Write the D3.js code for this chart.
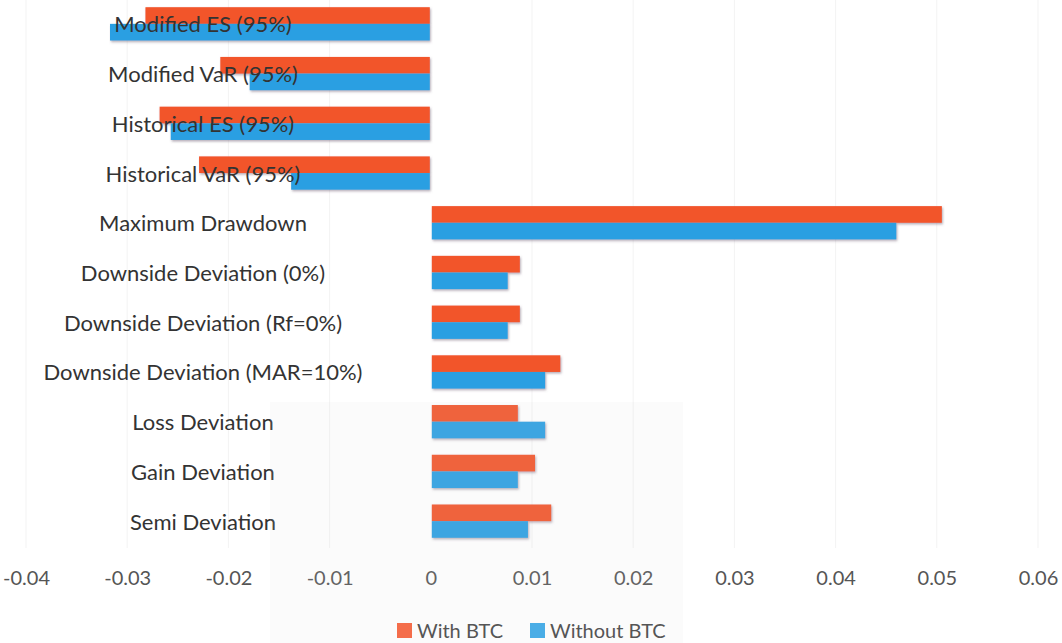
<!DOCTYPE html>
<html>
<head>
<meta charset="utf-8">
<script src="https://cdn.jsdelivr.net/npm/d3@7"></script>
<style>
  html, body { margin: 0; padding: 0; background: #ffffff; }
  svg { display: block; }
  text { font-family: Lato, "Open Sans", sans-serif; }
</style>
</head>
<body>
<svg id="chart" width="1062" height="643"></svg>
<script>
// Risk measures, top to bottom
const categories = [
  "Modified ES (95%)",
  "Modified VaR (95%)",
  "Historical ES (95%)",
  "Historical VaR (95%)",
  "Maximum Drawdown",
  "Downside Deviation (0%)",
  "Downside Deviation (Rf=0%)",
  "Downside Deviation (MAR=10%)",
  "Loss Deviation",
  "Gain Deviation",
  "Semi Deviation"
];

const seriesNames = ["With BTC", "Without BTC"];

const withBTC = [
  -0.0281, -0.0207, -0.0267, -0.0228,
  0.0504, 0.0087, 0.0087, 0.0127,
  0.0085, 0.0102, 0.0118
];

const withoutBTC = [
  -0.0316, -0.0178, -0.0256, -0.0137,
  0.0459, 0.0075, 0.0075, 0.0112,
  0.0112, 0.0085, 0.0095
];

const tickValues = [-0.04, -0.03, -0.02, -0.01, 0, 0.01, 0.02, 0.03, 0.04, 0.05, 0.06];
const tickLabels = ["-0.04", "-0.03", "-0.02", "-0.01", "0", "0.01", "0.02", "0.03", "0.04", "0.05", "0.06"];

const colors = ["#f2542a", "#2a9fe2"];

const svg = d3.select("#chart");

// Scales
const x = d3.scaleLinear().domain([-0.04, 0.06]).range([26, 1038]);
const y = d3.scaleBand().domain(categories).range([-1, 546])
  .paddingInner(0.33).paddingOuter(0.165);
const ySub = d3.scaleBand().domain(seriesNames).range([0, y.bandwidth()]);

// Soft shadow under each bar
const defs = svg.append("defs");
const shadow = defs.append("filter").attr("id", "barShadow")
  .attr("x", "-5%").attr("y", "-20%").attr("width", "110%").attr("height", "160%");
shadow.append("feDropShadow")
  .attr("dx", 1).attr("dy", 1.5).attr("stdDeviation", 0.8)
  .attr("flood-color", "#6b5a6e").attr("flood-opacity", 0.5);

// Faint vertical gridlines
svg.append("g").attr("class", "grid")
  .selectAll("line").data(tickValues.filter(v => v !== 0)).join("line")
  .attr("x1", d => x(d)).attr("x2", d => x(d))
  .attr("y1", 0).attr("y2", 548)
  .attr("stroke", "#f3f3f3").attr("stroke-width", 1);

// Bars
const rows = categories.map((c, i) => ({ cat: c, values: [withBTC[i], withoutBTC[i]] }));

const groups = svg.append("g").attr("class", "bars")
  .selectAll("g").data(rows).join("g")
  .attr("transform", d => `translate(0,${y(d.cat)})`);

groups.selectAll("rect")
  .data(d => d.values.map((v, k) => ({ v, name: seriesNames[k], k })))
  .join("rect")
  .attr("x", d => Math.min(x(0), x(d.v)) + (d.v >= 0 ? 1 : -1))
  .attr("width", d => Math.abs(x(d.v) - x(0)))
  .attr("y", d => ySub(d.name))
  .attr("height", ySub.bandwidth())
  .attr("fill", d => colors[d.k])
  .attr("filter", "url(#barShadow)");

// Category labels, centred in the left column
svg.append("g").attr("class", "cat-labels")
  .selectAll("text").data(categories).join("text")
  .attr("x", 203)
  .attr("y", d => y(d) + y.bandwidth() / 2)
  .attr("text-anchor", "middle")
  .attr("dominant-baseline", "central")
  .attr("font-size", 22)
  .attr("fill", "#333333")
  .text(d => d);

// Value axis along the bottom
const xAxis = d3.axisBottom(x)
  .tickValues(tickValues)
  .tickFormat((d, i) => tickLabels[i])
  .tickSize(0)
  .tickPadding(0);

const axisG = svg.append("g").attr("class", "x-axis")
  .attr("transform", "translate(0,578)")
  .call(xAxis);
axisG.select(".domain").remove();
axisG.selectAll("text")
  .attr("dy", "0.35em")
  .attr("font-size", 20)
  .attr("fill", "#555555")
  .style("font-family", "Lato, 'Open Sans', sans-serif");

// Faint watermark panel behind the lower rows
svg.append("rect")
  .attr("x", 270).attr("y", 402).attr("width", 413).attr("height", 241)
  .attr("fill", "#d8d8d8").attr("opacity", 0.11)
  .attr("pointer-events", "none");

// Legend
const legend = svg.append("g").attr("class", "legend")
  .attr("transform", "translate(397,630)");
const legendX = [0, 133];
const item = legend.selectAll("g").data(seriesNames).join("g")
  .attr("transform", (d, i) => `translate(${legendX[i]},0)`);
item.append("rect")
  .attr("x", 0).attr("y", -7).attr("width", 15).attr("height", 15)
  .attr("fill", (d, i) => colors[i]).attr("opacity", 0.85);
item.append("text")
  .attr("x", 20).attr("y", 0)
  .attr("dominant-baseline", "central")
  .attr("font-size", 20)
  .attr("fill", "#555555")
  .text(d => d);
</script>
</body>
</html>
